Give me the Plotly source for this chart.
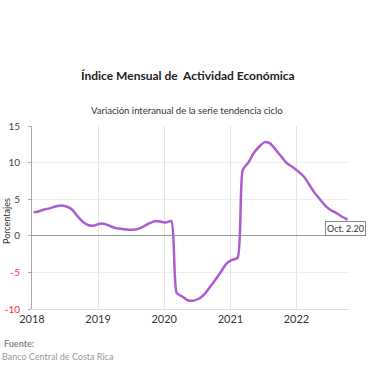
import plotly.graph_objects as go
import pandas as pd

values = [
    3.2, 3.35, 3.6, 3.75, 4.0, 4.15, 4.0, 3.6, 2.65, 1.9, 1.45, 1.4,   # 2018
    1.65, 1.6, 1.3, 1.05, 0.95, 0.85, 0.82, 0.95, 1.3, 1.7, 2.0, 1.95,  # 2019
    1.8, 2.0, -7.8, -8.3, -8.8, -8.86, -8.6, -8.0, -7.0, -6.0, -4.9, -3.8,  # 2020
    -3.3, -3.0, 9.0, 10.0, 11.3, 12.2, 12.8, 12.6, 11.7, 10.8, 9.9, 9.4,  # 2021
    8.8, 8.1, 7.1, 5.9, 5.0, 4.1, 3.5, 3.1, 2.6, 2.2,  # 2022
]
x_ticks = ["2018-01-01", "2019-01-01", "2020-01-01", "2021-01-01", "2022-01-01"]
x_labels = ["2018", "2019", "2020", "2021", "2022"]
y_ticks = [-10, -5, 0, 5, 10, 15]
last_label = "Oct. 2.20"

months = pd.date_range("2018-01-01", periods=len(values), freq="MS") + pd.Timedelta(days=9)

y_text = [f"<span style='color:#ff3030'>{v}</span>" if v < 0 else str(v) for v in y_ticks]

PL, PR, PT, PB = 32, 349, 126, 309
W = PR - PL
H = PB - PT

def px(xp):
    return (xp - PL) / W

def py(yp):
    return (PB - yp) / H

fig = go.Figure()
fig.add_trace(go.Scatter(
    x=months, y=values, mode="lines",
    line=dict(color="#ad5bd0", width=2.5, shape="spline", smoothing=0.6),
    hoverinfo="skip", showlegend=False,
))

fig.update_layout(
    width=380, height=380,
    margin=dict(l=PL, r=380 - PR, t=PT, b=380 - PB, autoexpand=False),
    paper_bgcolor="white", plot_bgcolor="white",
    font=dict(family="Lato, sans-serif", color="#333"),
    xaxis=dict(
        type="date", range=["2018-01-01", "2022-10-18"],
        tickvals=x_ticks, ticktext=x_labels,
        showgrid=True, gridcolor="#e4e4e4", gridwidth=1,
        tickfont=dict(size=11, color="#333"),
        showline=True, linecolor="#e0e0e0", linewidth=1,
        ticks="", zeroline=False, automargin=False,
    ),
    yaxis=dict(
        range=[-10, 15], tickvals=y_ticks, ticktext=y_text,
        showgrid=True, gridcolor="#eeeeee", gridwidth=1,
        zeroline=True, zerolinecolor="#999999", zerolinewidth=1,
        showline=True, linecolor="#aaaaaa", linewidth=1,
        ticks="outside", ticklen=3, tickcolor="#aaaaaa",
        tickfont=dict(size=10, color="#444"),
        ticklabelstandoff=6, automargin=False,
    ),
)

fig.add_annotation(
    xref="paper", yref="paper", x=px(6), y=py(221), textangle=-90,
    text="Porcentajes", showarrow=False, font=dict(size=9, color="#333"),
    xanchor="center", yanchor="middle",
)
fig.add_annotation(
    xref="paper", yref="paper", x=px(188), y=py(76), yanchor="middle",
    text="<b>Índice Mensual de  Actividad Económica</b>", showarrow=False,
    font=dict(size=12, color="#222"),
)
fig.add_annotation(
    xref="paper", yref="paper", x=px(187), y=py(111), yanchor="middle",
    text="Variación interanual de la serie tendencia ciclo", showarrow=False,
    font=dict(size=9.5, color="#333"),
)
fig.add_annotation(
    xref="paper", yref="paper", x=px(325), y=py(228), xanchor="left", yanchor="middle",
    text=last_label, showarrow=False, align="left",
    font=dict(size=9, color="#333"), bgcolor="white",
    bordercolor="#888", borderwidth=1, borderpad=1,
)
fig.add_annotation(
    xref="paper", yref="paper", x=px(2), y=py(343), xanchor="left", yanchor="middle",
    text="<b>Fuente:</b>", showarrow=False, font=dict(size=9, color="#888"),
)
fig.add_annotation(
    xref="paper", yref="paper", x=px(0), y=py(356), xanchor="left", yanchor="middle",
    text="Banco Central de Costa Rica", showarrow=False, font=dict(size=9, color="#999"),
)

fig.write_html(
    "out.html",
    config={"displayModeBar": False},
    post_script="document.body.style.margin='0';",
)
